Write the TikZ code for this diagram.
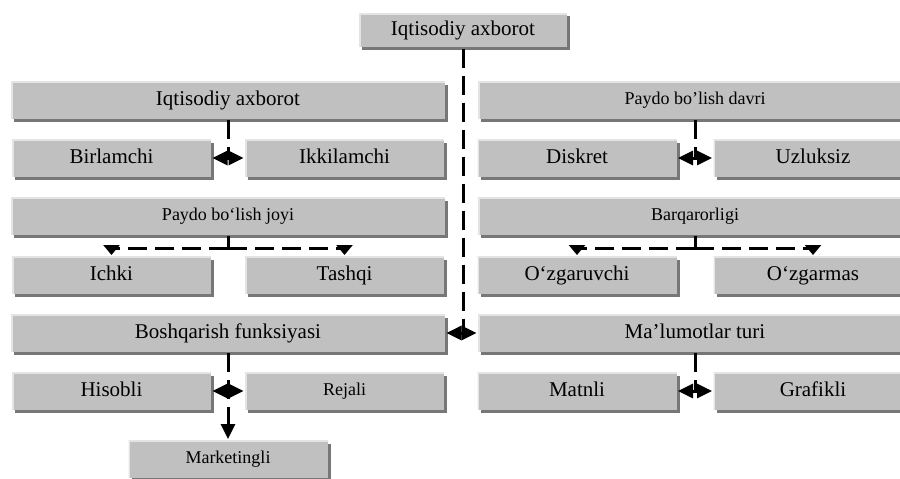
\documentclass[tikz,border=0pt]{standalone}
\usepackage{fontspec}
\setmainfont{Liberation Serif}
\usetikzlibrary{arrows.meta,shadows}
\definecolor{boxgray}{HTML}{C0C0C0}
\definecolor{shadowgray}{HTML}{777777}
\definecolor{edgegray}{HTML}{E4E4E4}
\tikzset{
	blok/.style={rectangle,fill=boxgray,inner sep=0pt,minimum height=37pt,text height=14pt,text depth=4pt,
		general shadow={fill=shadowgray,shadow xshift=3pt,shadow yshift=-3pt},
		path picture={\draw[edgegray,line width=3pt] (path picture bounding box.south west)--(path picture bounding box.north west)--(path picture bounding box.north east);}},
	katta/.style={blok,minimum width=434pt},
	kichik/.style={blok,minimum width=199pt},
	mayda/.style={font=\fontsize{18}{20}\selectfont,text height=12pt,text depth=3.5pt},
	uzuq/.style={dash pattern=on 19pt off 8pt},
	uch/.tip={Triangle[length=15pt,width=14pt]},
	qisqa/.tip={Triangle[length=10pt,width=16pt]},
}
\begin{document}
\begin{tikzpicture}[line join=round,x=1pt,y=-1pt,line width=3pt,font=\fontsize{21}{24}\selectfont]
		\useasboundingbox (0,0) rectangle (900,479);
		\clip (0,0) rectangle (900,479);
		\def\ch{111.5}\def\ou{344.5}
		% yuqori
		\node[blok,minimum width=208pt,minimum height=34pt] (ia) at (463,30) {Iqtisodiy axborot};
		% chap ustun
		\node[katta] (ia1) at (228,100) {Iqtisodiy axborot};
		\node[kichik] (birl) at (\ch,158) {Birlamchi};
		\node[kichik] (ikki) at (\ou,158) {Ikkilamchi};
		\node[katta,mayda] (pj) at (228,216) {Paydo bo‘lish joyi};
		\node[kichik] (ichki) at (\ch,275) {Ichki};
		\node[kichik] (tashqi) at (\ou,275) {Tashqi};
		\node[katta] (bf) at (228,333) {Boshqarish funksiyasi};
		\node[kichik] (hisob) at (\ch,391) {Hisobli};
		\node[kichik,mayda] (reja) at (\ou,391) {Rejali};
		\node[kichik,mayda] (mark) at (228,459) {Marketingli};
		% o'ng ustun
		\node[katta,mayda] (pd) at (695,100) {Paydo bo’lish davri};
		\node[kichik] (disk) at (577,158) {Diskret};
		\node[kichik] (uzl) at (813,158) {Uzluksiz};
		\node[katta,mayda] (barq) at (695,216) {Barqarorligi};
		\node[kichik] (ozgv) at (577,275) {O‘zgaruvchi};
		\node[kichik] (ozgm) at (813,275) {O‘zgarmas};
		\node[katta] (mt) at (695,333) {Ma’lumotlar turi};
		\node[kichik] (matn) at (577,391) {Matnli};
		\node[kichik] (graf) at (813,391) {Grafikli};
		% bog'lanishlar
		\draw[uzuq] (ia.south)--(ia.south |- bf.east);
		\draw[uch-uch] (bf.east)--(mt.west);
		\foreach \ust/\chap/\ong in {ia1/birl/ikki,pd/disk/uzl,bf/hisob/reja,mt/matn/graf}{
			\draw[uzuq] (\ust.south)--(\ust.south |- \chap.east);
			\draw[uch-uch] (\chap.east)--(\ong.west);};
		\draw[uzuq,-uch] (bf.south)--(mark.north);
		\foreach \ust/\chap/\ong in {pj/ichki/tashqi,barq/ozgv/ozgm}{
			\coordinate (\ust-t) at ([yshift=-12pt]\ust.south);
			\draw (\ust.south)--(\ust-t);
			\draw[uzuq,-qisqa] (\ust-t) -| (\chap.north);
			\draw[uzuq,-qisqa] (\ust-t) -| (\ong.north);};
\end{tikzpicture}
\end{document}
